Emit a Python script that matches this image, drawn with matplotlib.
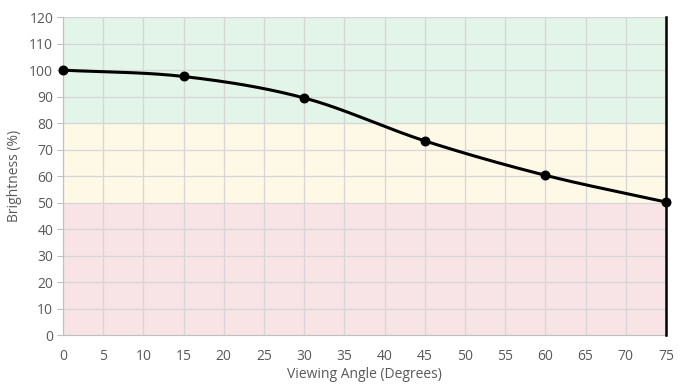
import matplotlib
matplotlib.use("Agg")
import matplotlib.pyplot as plt
import numpy as np

plt.rcParams["font.family"] = ["Open Sans", "DejaVu Sans"]

angles = [0, 15, 30, 45, 60, 75]
brightness = [100, 97.6, 89.5, 73.3, 60.3, 50.2]
x_ticks = list(range(0, 80, 5))
y_ticks = list(range(0, 130, 10))
bands = [(0, 50, "#f8e4e6"), (50, 80, "#fef8e7"), (80, 120, "#e3f4e9")]


def _smooth(xs, ys, n=40):
    # Catmull-Rom style smoothing, like a spreadsheet "smoothed line"
    xs = np.asarray(xs, float)
    ys = np.asarray(ys, float)
    px = np.concatenate([[2 * xs[0] - xs[1]], xs, [2 * xs[-1] - xs[-2]]])
    py = np.concatenate([[2 * ys[0] - ys[1]], ys, [2 * ys[-1] - ys[-2]]])
    out_x, out_y = [], []
    t = np.linspace(0, 1, n)
    for i in range(1, len(px) - 2):
        for arr, out in ((px, out_x), (py, out_y)):
            p0, p1, p2, p3 = arr[i - 1], arr[i], arr[i + 1], arr[i + 2]
            c1 = p1 + (p2 - p0) / 6
            c2 = p2 - (p3 - p1) / 6
            seg = (1 - t) ** 3 * p1 + 3 * (1 - t) ** 2 * t * c1 + 3 * (1 - t) * t ** 2 * c2 + t ** 3 * p2
            out.extend(seg)
    return np.array(out_x), np.array(out_y)


fig = plt.figure(figsize=(6.93, 3.9), dpi=100)
ax = fig.add_axes([0.0909, 0.141, 0.8701, 0.815])

for lo, hi, color in bands:
    ax.axhspan(lo, hi, color=color, zorder=0, linewidth=0)

ax.set_xlim(0, 75)
ax.set_ylim(0, 120)
ax.set_xticks(x_ticks)
ax.set_yticks(y_ticks)
ax.grid(True, color="#d6d6d6", linewidth=0.9, zorder=1)
ax.set_axisbelow(True)

sx, sy = _smooth(angles, brightness)
ax.plot(sx, sy, color="black", linewidth=2.2, zorder=3, clip_on=False)
ax.scatter(angles, brightness, s=38, color="black", zorder=4, clip_on=False)
ax.axvline(75, color="black", linewidth=1.8, zorder=3, clip_on=False)

for side in ("top", "right"):
    ax.spines[side].set_visible(False)
ax.spines["left"].set_color("#bfbfbf")
ax.spines["bottom"].set_color("#bfbfbf")
ax.tick_params(axis="y", length=4, color="#bfbfbf", labelcolor="#595959", labelsize=10, pad=3)
ax.tick_params(axis="x", length=0, labelcolor="#595959", labelsize=10, pad=10)

ax.set_xlabel("Viewing Angle (Degrees)", color="#595959", fontsize=10, labelpad=2)
ax.set_ylabel("Brightness (%)", color="#595959", fontsize=10, labelpad=5)

fig.savefig("out.png", dpi=100, facecolor="white")
plt.close(fig)
